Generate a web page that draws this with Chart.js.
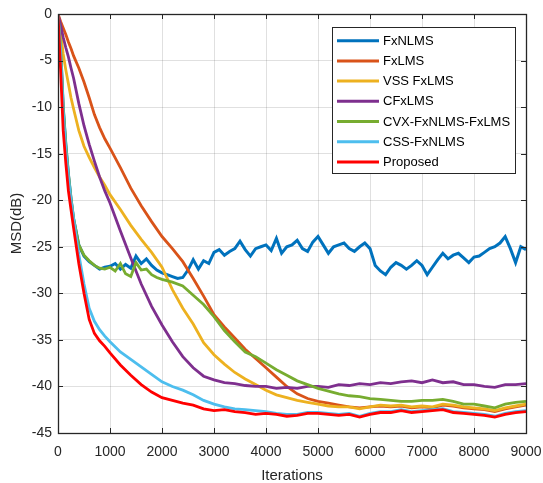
<!DOCTYPE html>
<html>
<head>
<meta charset="utf-8">
<script src="https://cdn.jsdelivr.net/npm/chart.js@4"></script>
<style>
  html, body { margin: 0; padding: 0; background: #ffffff; }
  #wrap { width: 543px; height: 483px; }
</style>
</head>
<body>
<div id="wrap"><canvas id="c" width="543" height="483"></canvas></div>
<script>
// Iteration grids (x values)
const itersCoarse = [0, 50, 100, 150, 200, 250, 300, 400, 500, 600, 700, 800, 900, 1000,
  1200, 1400, 1600, 1800, 2000, 2200, 2400, 2600, 2800, 3000, 3200, 3400, 3600, 3800, 4000,
  4200, 4400, 4600, 4800, 5000, 5200, 5400, 5600, 5800, 6000, 6200, 6400, 6600, 6800, 7000,
  7200, 7400, 7600, 7800, 8000, 8200, 8400, 8600, 8800, 9000];

const itersGreen = [0, 50, 100, 150, 200, 250, 300, 400, 500, 600, 700, 800, 900, 1000,
  1100, 1200, 1300, 1400, 1500, 1600, 1700, 1800, 1900, 2000,
  2200, 2400, 2600, 2800, 3000, 3200, 3400, 3600, 3800, 4000, 4200, 4400, 4600, 4800, 5000,
  5200, 5400, 5600, 5800, 6000, 6200, 6400, 6600, 6800, 7000, 7200, 7400, 7600, 7800, 8000,
  8200, 8400, 8600, 8800, 9000];

const itersFine = [0, 50, 100, 150, 200, 250, 300,
  400, 500, 600, 700, 800, 900, 1000, 1100, 1200, 1300, 1400, 1500, 1600, 1700, 1800, 1900,
  2000, 2100, 2200, 2300, 2400, 2500, 2600, 2700, 2800, 2900, 3000, 3100, 3200, 3300, 3400,
  3500, 3600, 3700, 3800, 3900, 4000, 4100, 4200, 4300, 4400, 4500, 4600, 4700, 4800, 4900,
  5000, 5100, 5200, 5300, 5400, 5500, 5600, 5700, 5800, 5900, 6000, 6100, 6200, 6300, 6400,
  6500, 6600, 6700, 6800, 6900, 7000, 7100, 7200, 7300, 7400, 7500, 7600, 7700, 7800, 7900,
  8000, 8100, 8200, 8300, 8400, 8500, 8600, 8700, 8800, 8900, 9000];

// MSD curves (dB)
const msdFxNLMS = [0, -3.5, -10, -14, -17.2, -19.8, -22,
  -24.8, -26, -26.6, -27.0, -27.4, -27.2, -27.1, -26.8, -27.4, -26.9, -27.3, -26.0, -26.8, -26.3,
  -27.0, -27.5, -27.8, -28.0, -28.2, -28.4, -28.3, -27.5, -26.4, -27.4, -26.5, -26.8, -25.6,
  -25.3, -25.9, -25.5, -25.2, -24.4, -25.3, -26.0, -25.2, -25.0, -24.8, -25.4, -24.1, -25.7,
  -25.0, -24.8, -24.3, -25.2, -25.5, -24.5, -23.9, -24.8, -25.7, -25.0, -24.8, -24.6, -25.2,
  -25.5, -25.0, -24.6, -25.2, -27.0, -27.6, -28.0, -27.2, -26.7, -27.0, -27.4, -27.0, -26.5,
  -27.0, -28.0, -27.2, -26.4, -25.7, -26.3, -25.9, -25.7, -26.2, -26.7, -26.1, -26.0, -25.6,
  -25.2, -25.0, -24.6, -23.9, -25.2, -26.7, -25.0, -25.3];

const msdFxLMS = [0, -0.8, -1.5, -2.2, -3.0, -3.7, -4.5, -5.8, -7.3, -9.0, -10.8, -12.2, -13.4, -14.4,
  -16.5, -18.7, -20.6, -22.3, -23.9, -25.2, -26.6, -28.4, -30.3, -32.3, -33.6, -34.8, -36.0,
  -37.0, -38.0, -39.0, -40.0, -40.8, -41.3, -41.6, -41.8, -42.0, -42.2, -42.3, -42.2, -42.1,
  -42.2, -42.1, -42.3, -42.2, -42.3, -42.0, -42.1, -42.3, -42.4, -42.5, -42.7, -42.4, -42.2, -42.0];

const msdVSS = [0, -2, -4.3, -6, -7.5, -9, -10.2, -12.5, -14.2, -15.4, -16.5, -17.5, -18.4, -19.4,
  -21.0, -22.7, -24.2, -25.6, -27.2, -29.6, -31.6, -33.3, -35.3, -36.6, -37.6, -38.5, -39.2,
  -39.8, -40.4, -40.9, -41.2, -41.5, -41.7, -41.9, -42.1, -42.2, -42.2, -42.4, -42.2, -42.0,
  -42.1, -42.0, -42.2, -42.1, -42.2, -41.9, -42.0, -42.2, -42.3, -42.4, -42.6, -42.3, -42.1, -41.9];

const msdCFxLMS = [0, -1.2, -2.5, -3.6, -4.6, -5.8, -6.9, -9.6, -12.0, -14.0, -15.8, -17.5, -19.0, -20.3,
  -23.3, -26.2, -29.0, -31.4, -33.4, -35.2, -36.8, -38.0, -38.9, -39.3, -39.6, -39.7, -39.9,
  -40.0, -40.0, -40.2, -40.1, -40.2, -40.0, -40.0, -40.1, -39.8, -39.9, -39.7, -39.8, -39.6,
  -39.7, -39.5, -39.4, -39.6, -39.3, -39.6, -39.5, -39.8, -39.8, -40.0, -40.1, -39.8, -39.8, -39.7];

const msdCVX = [0, -3.5, -10, -14, -17.2, -19.8, -22, -24.8, -25.9, -26.5, -27.0, -27.3, -27.4, -27.2,
  -27.6, -26.8, -27.9, -28.2, -26.7, -27.5, -27.4, -28.0, -28.3, -28.5,
  -28.8, -29.2, -30.2, -31.2, -32.5, -34.0, -35.2, -36.3, -36.8, -37.5, -38.2, -38.8, -39.4,
  -39.8, -40.2, -40.5, -40.8, -41.0, -41.1, -41.3, -41.4, -41.5, -41.6, -41.6, -41.5, -41.5,
  -41.4, -41.6, -41.9, -41.9, -42.1, -42.3, -41.9, -41.7, -41.6];

const msdCSS = [0, -4, -10.5, -14.5, -17.5, -20, -22, -25.8, -29, -31.6, -33, -33.9, -34.6, -35.2,
  -36.3, -37.1, -37.9, -38.7, -39.5, -40.0, -40.4, -40.9, -41.5, -41.9, -42.2, -42.4, -42.5,
  -42.6, -42.7, -42.9, -43.0, -43.0, -42.8, -42.8, -42.9, -43.0, -42.9, -43.2, -42.9, -42.7,
  -42.7, -42.5, -42.7, -42.6, -42.5, -42.4, -42.7, -42.8, -42.9, -43.0, -43.2, -42.9, -42.7, -42.6];

const msdProposed = [0, -6, -12.5, -16, -19, -21, -23, -26.8, -30, -32.8, -34.3, -35.1, -35.7, -36.4,
  -37.7, -38.8, -39.8, -40.6, -41.2, -41.5, -41.8, -42.0, -42.4, -42.6, -42.5, -42.7, -42.8,
  -43.0, -42.9, -43.0, -43.2, -43.1, -42.9, -42.9, -43.0, -43.1, -43.0, -43.3, -43.0, -42.8,
  -42.8, -42.6, -42.8, -42.7, -42.6, -42.5, -42.8, -42.9, -43.0, -43.1, -43.3, -43.0, -42.8, -42.7];

const seriesNames = ['FxNLMS', 'FxLMS', 'VSS FxLMS', 'CFxLMS', 'CVX-FxNLMS-FxLMS', 'CSS-FxNLMS', 'Proposed'];
const seriesColors = ['#0072BD', '#D95319', '#EDB120', '#7E2F8E', '#77AC30', '#4DBEEE', '#FF0000'];
const seriesIters = [itersFine, itersCoarse, itersCoarse, itersCoarse, itersGreen, itersCoarse, itersCoarse];
const seriesValues = [msdFxNLMS, msdFxLMS, msdVSS, msdCFxLMS, msdCVX, msdCSS, msdProposed];

const xTicks = [0, 1000, 2000, 3000, 4000, 5000, 6000, 7000, 8000, 9000];
const yTicks = [0, -5, -10, -15, -20, -25, -30, -35, -40, -45];

const FONT = '"Liberation Sans", Arial, Helvetica, sans-serif';
const AXIS_COLOR = '#262626';

const datasets = seriesNames.map((name, i) => ({
  label: name,
  data: seriesIters[i].map((x, k) => ({ x: x, y: seriesValues[i][k] })),
  borderColor: seriesColors[i],
  backgroundColor: seriesColors[i],
  borderWidth: i === 0 ? 3 : 2.8,
  pointRadius: 0,
  tension: 0,
  fill: false,
  // later series are painted over earlier ones
  order: seriesNames.length - 1 - i
}));

// Box around the plot area with inward tick marks on all four sides
const axesFrame = {
  id: 'axesFrame',
  afterDatasetsDraw(chart) {
    const { ctx, chartArea: a, scales } = chart;
    const len = 5;
    ctx.save();
    ctx.strokeStyle = AXIS_COLOR;
    ctx.lineWidth = 1;
    ctx.beginPath();
    xTicks.forEach(v => {
      const px = Math.round(scales.x.getPixelForValue(v)) + 0.5;
      ctx.moveTo(px, a.bottom); ctx.lineTo(px, a.bottom - len);
      ctx.moveTo(px, a.top); ctx.lineTo(px, a.top + len);
    });
    yTicks.forEach(v => {
      const py = Math.round(scales.y.getPixelForValue(v)) + 0.5;
      ctx.moveTo(a.left, py); ctx.lineTo(a.left + len, py);
      ctx.moveTo(a.right, py); ctx.lineTo(a.right - len, py);
    });
    ctx.stroke();
    ctx.lineWidth = 1.3;
    ctx.strokeRect(Math.round(a.left) + 0.5, Math.round(a.top) + 0.5,
      Math.round(a.right - a.left), Math.round(a.bottom - a.top));
    ctx.restore();
  }
};

// Legend box drawn inside the upper-right of the plot area
const insideLegend = {
  id: 'insideLegend',
  afterDraw(chart) {
    const { ctx, chartArea: a } = chart;
    const w = 183, h = 146, rowH = 20.2;
    const x0 = Math.round(a.right - 11 - w), y0 = Math.round(a.top + 13);
    ctx.save();
    ctx.fillStyle = '#ffffff';
    ctx.fillRect(x0, y0, w, h);
    ctx.strokeStyle = AXIS_COLOR;
    ctx.lineWidth = 1;
    ctx.strokeRect(x0 + 0.5, y0 + 0.5, w, h);
    ctx.font = '13px ' + FONT;
    ctx.textBaseline = 'middle';
    ctx.textAlign = 'left';
    chart.data.datasets.forEach((ds, i) => {
      const y = y0 + 13.7 + i * rowH;
      ctx.strokeStyle = ds.borderColor;
      ctx.lineWidth = 3;
      ctx.beginPath();
      ctx.moveTo(x0 + 5, y);
      ctx.lineTo(x0 + 47, y);
      ctx.stroke();
      ctx.fillStyle = '#000000';
      ctx.fillText(ds.label, x0 + 51, y + 0.5);
    });
    ctx.restore();
  }
};

new Chart(document.getElementById('c'), {
  type: 'line',
  data: { datasets: datasets },
  options: {
    responsive: false,
    animation: false,
    devicePixelRatio: 1,
    layout: { padding: { top: 14, right: 17, left: 0, bottom: 0 } },
    plugins: {
      legend: { display: false },
      tooltip: { enabled: false }
    },
    scales: {
      x: {
        type: 'linear',
        min: 0, max: 9000,
        afterFit(s) { s.height = 50; s.paddingLeft = 0; s.paddingRight = 0; },
        afterBuildTicks(s) { s.ticks = xTicks.map(v => ({ value: v })); },
        grid: { color: 'rgba(38,38,38,0.14)', lineWidth: 1, drawTicks: false },
        border: { display: false },
        ticks: { color: AXIS_COLOR, font: { family: FONT, size: 14 }, padding: 11, maxRotation: 0,
          callback: v => String(v) },
        title: { display: true, text: 'Iterations', color: AXIS_COLOR,
          font: { family: FONT, size: 15, lineHeight: 1 }, padding: { top: 0, bottom: 0 } }
      },
      y: {
        type: 'linear',
        min: -45, max: 0,
        afterFit(s) { s.width = 58; s.paddingTop = 0; s.paddingBottom = 0; },
        afterBuildTicks(s) { s.ticks = yTicks.map(v => ({ value: v })); },
        grid: { color: 'rgba(38,38,38,0.14)', lineWidth: 1, drawTicks: false },
        border: { display: false },
        ticks: { color: AXIS_COLOR, font: { family: FONT, size: 14 }, padding: 6,
          callback: v => String(v) },
        title: { display: true, text: 'MSD(dB)', color: AXIS_COLOR,
          font: { family: FONT, size: 15, lineHeight: 1 }, padding: { top: 9, bottom: 0 } }
      }
    }
  },
  plugins: [axesFrame, insideLegend]
});
</script>
</body>
</html>
